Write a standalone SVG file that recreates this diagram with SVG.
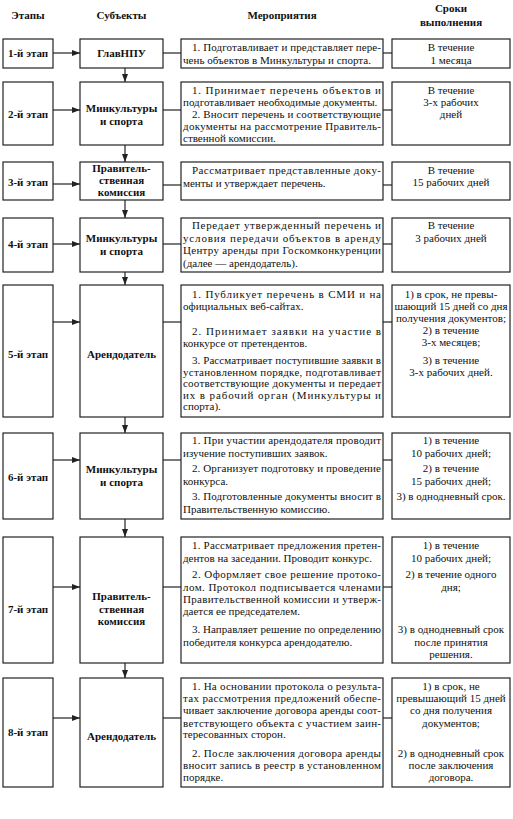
<svg xmlns="http://www.w3.org/2000/svg" width="513" height="819" viewBox="0 0 513 819">
<style>
.bg{fill:#fff}
.box{fill:#fff;stroke:#222;stroke-width:1.2}
.ln{stroke:#222;stroke-width:1.2;fill:none}
.t{font-family:"Liberation Serif","Times New Roman",serif;font-size:11px;fill:#111}
.b{font-weight:bold}
.c{text-anchor:middle}
</style>
<defs>
<marker id="ah" viewBox="0 0 8 6" refX="8" refY="3" markerWidth="8" markerHeight="6" orient="auto" markerUnits="userSpaceOnUse"><path d="M0,0 L8,3 L0,6 z" fill="#222"/></marker>
</defs>
<rect class="bg" x="0" y="0" width="513" height="819"/>
<g id="header" class="t b c">
<text x="28" y="19">Этапы</text>
<text x="121.5" y="19">Субъекты</text>
<text x="282" y="19">Мероприятия</text>
<text x="451" y="12">Сроки</text>
<text x="451" y="26">выполнения</text>
</g>
<g id="connectors">
<line class="ln" x1="53" y1="53" x2="80" y2="53" marker-end="url(#ah)"/>
<line class="ln" x1="163" y1="53" x2="181" y2="53"/>
<line class="ln" x1="383" y1="53" x2="392" y2="53"/>
<line class="ln" x1="125" y1="68" x2="125" y2="82" marker-end="url(#ah)"/>
<line class="ln" x1="53" y1="110" x2="80" y2="110" marker-end="url(#ah)"/>
<line class="ln" x1="163" y1="110" x2="181" y2="110"/>
<line class="ln" x1="383" y1="110" x2="392" y2="110"/>
<line class="ln" x1="125" y1="145" x2="125" y2="162" marker-end="url(#ah)"/>
<line class="ln" x1="53" y1="184" x2="80" y2="184" marker-end="url(#ah)"/>
<line class="ln" x1="163" y1="185" x2="181" y2="185"/>
<line class="ln" x1="383" y1="185" x2="392" y2="185"/>
<line class="ln" x1="125" y1="200" x2="125" y2="218" marker-end="url(#ah)"/>
<line class="ln" x1="53" y1="244" x2="80" y2="244" marker-end="url(#ah)"/>
<line class="ln" x1="163" y1="244" x2="181" y2="244"/>
<line class="ln" x1="383" y1="244" x2="392" y2="244"/>
<line class="ln" x1="125" y1="272" x2="125" y2="285" marker-end="url(#ah)"/>
<line class="ln" x1="53" y1="322" x2="80" y2="322" marker-end="url(#ah)"/>
<line class="ln" x1="163" y1="322" x2="181" y2="322"/>
<line class="ln" x1="383" y1="322" x2="392" y2="322"/>
<line class="ln" x1="125" y1="417" x2="125" y2="433" marker-end="url(#ah)"/>
<line class="ln" x1="53" y1="460" x2="80" y2="460" marker-end="url(#ah)"/>
<line class="ln" x1="163" y1="460" x2="181" y2="460"/>
<line class="ln" x1="383" y1="460" x2="392" y2="460"/>
<line class="ln" x1="125" y1="519" x2="125" y2="537" marker-end="url(#ah)"/>
<line class="ln" x1="53" y1="587" x2="80" y2="587" marker-end="url(#ah)"/>
<line class="ln" x1="163" y1="587" x2="181" y2="587"/>
<line class="ln" x1="383" y1="587" x2="392" y2="587"/>
<line class="ln" x1="125" y1="663" x2="125" y2="678" marker-end="url(#ah)"/>
<line class="ln" x1="53" y1="718" x2="80" y2="718" marker-end="url(#ah)"/>
<line class="ln" x1="163" y1="718" x2="181" y2="718"/>
<line class="ln" x1="383" y1="718" x2="392" y2="718"/>
</g>

<!-- Row 1 -->
<g id="stage1"><rect class="box" x="3" y="39" width="50" height="29"/><text class="t b c" x="28" y="57">1-й этап</text></g>
<g id="subj1"><rect class="box" x="80" y="39" width="83" height="29"/><text class="t b c" x="121.5" y="57">ГлавНПУ</text></g>
<g id="meas1"><rect class="box" x="181" y="39" width="202" height="29"/>
<text class="t" x="192" y="51" textLength="189" lengthAdjust="spacing">1. Подготавливает и представляет пере-</text>
<text class="t" x="183" y="64" textLength="188" lengthAdjust="spacing">чень объектов в Минкультуры и спорта.</text></g>
<g id="term1"><rect class="box" x="392" y="39" width="118" height="29"/>
<text class="t c" x="451" y="51">В течение</text><text class="t c" x="451" y="64">1 месяца</text></g>

<!-- Row 2 -->
<g id="stage2"><rect class="box" x="3" y="82" width="50" height="63"/><text class="t b c" x="28" y="118">2-й этап</text></g>
<g id="subj2"><rect class="box" x="80" y="82" width="83" height="63"/><text class="t b c" x="121.5" y="112">Минкультуры</text><text class="t b c" x="121.5" y="124.5">и спорта</text></g>
<g id="meas2"><rect class="box" x="181" y="82" width="202" height="63"/>
<text class="t" x="192" y="94" textLength="189" lengthAdjust="spacing">1. Принимает перечень объектов и</text>
<text class="t" x="183" y="106">подготавливает необходимые документы.</text>
<text class="t" x="192" y="118" textLength="189" lengthAdjust="spacing">2. Вносит перечень и соответствующие</text>
<text class="t" x="183" y="130" textLength="198" lengthAdjust="spacing">документы на рассмотрение Правитель-</text>
<text class="t" x="183" y="142">ственной комиссии.</text></g>
<g id="term2"><rect class="box" x="392" y="82" width="118" height="63"/>
<text class="t c" x="451" y="94">В течение</text><text class="t c" x="451" y="106">3-х рабочих</text><text class="t c" x="451" y="118">дней</text></g>

<!-- Row 3 -->
<g id="stage3"><rect class="box" x="3" y="162" width="50" height="38"/><text class="t b c" x="28" y="186">3-й этап</text></g>
<g id="subj3"><rect class="box" x="80" y="162" width="83" height="38"/><text class="t b c" x="121.5" y="172">Правитель-</text><text class="t b c" x="121.5" y="184">ственная</text><text class="t b c" x="121.5" y="196">комиссия</text></g>
<g id="meas3"><rect class="box" x="181" y="162" width="202" height="38"/>
<text class="t" x="192" y="174" textLength="189" lengthAdjust="spacing">Рассматривает представленные доку-</text>
<text class="t" x="183" y="187">менты и утверждает перечень.</text></g>
<g id="term3"><rect class="box" x="392" y="162" width="118" height="38"/>
<text class="t c" x="451" y="174">В течение</text><text class="t c" x="451" y="186">15 рабочих дней</text></g>

<!-- Row 4 -->
<g id="stage4"><rect class="box" x="3" y="218" width="50" height="54"/><text class="t b c" x="28" y="248">4-й этап</text></g>
<g id="subj4"><rect class="box" x="80" y="218" width="83" height="54"/><text class="t b c" x="121.5" y="242">Минкультуры</text><text class="t b c" x="121.5" y="254.5">и спорта</text></g>
<g id="meas4"><rect class="box" x="181" y="218" width="202" height="54"/>
<text class="t" x="192" y="229" textLength="189" lengthAdjust="spacing">Передает утвержденный перечень и</text>
<text class="t" x="183" y="241.5" textLength="198" lengthAdjust="spacing">условия передачи объектов в аренду</text>
<text class="t" x="183" y="254" textLength="198" lengthAdjust="spacing">Центру аренды при Госкомконкуренции</text>
<text class="t" x="183" y="266.5">(далее — арендодатель).</text></g>
<g id="term4"><rect class="box" x="392" y="218" width="118" height="54"/>
<text class="t c" x="451" y="229">В течение</text><text class="t c" x="451" y="241.5">3 рабочих дней</text></g>

<!-- Row 5 -->
<g id="stage5"><rect class="box" x="3" y="285" width="50" height="132"/><text class="t b c" x="28" y="358">5-й этап</text></g>
<g id="subj5"><rect class="box" x="80" y="285" width="83" height="132"/><text class="t b c" x="121.5" y="358">Арендодатель</text></g>
<g id="meas5"><rect class="box" x="181" y="285" width="202" height="132"/>
<text class="t" x="192" y="298" textLength="189" lengthAdjust="spacing">1. Публикует перечень в СМИ и на</text>
<text class="t" x="183" y="310">официальных веб-сайтах.</text>
<text class="t" x="192" y="335" textLength="189" lengthAdjust="spacing">2. Принимает заявки на участие в</text>
<text class="t" x="183" y="347">конкурсе от претендентов.</text>
<text class="t" x="192" y="364" textLength="189" lengthAdjust="spacing">3. Рассматривает поступившие заявки в</text>
<text class="t" x="183" y="375.5" textLength="198" lengthAdjust="spacing">установленном порядке, подготавливает</text>
<text class="t" x="183" y="387" textLength="198" lengthAdjust="spacing">соответствующие документы и передает</text>
<text class="t" x="183" y="398.5" textLength="198" lengthAdjust="spacing">их в рабочий орган (Минкультуры и</text>
<text class="t" x="183" y="410">спорта).</text></g>
<g id="term5"><rect class="box" x="392" y="285" width="118" height="132"/>
<text class="t c" x="451" y="298">1) в срок, не превы-</text>
<text class="t c" x="451" y="310">шающий 15 дней со дня</text>
<text class="t c" x="451" y="322">получения документов;</text>
<text class="t c" x="451" y="334">2) в течение</text>
<text class="t c" x="451" y="346">3-х месяцев;</text>
<text class="t c" x="451" y="364">3) в течение</text>
<text class="t c" x="451" y="376">3-х рабочих дней.</text></g>

<!-- Row 6 -->
<g id="stage6"><rect class="box" x="3" y="433" width="50" height="86"/><text class="t b c" x="28" y="481">6-й этап</text></g>
<g id="subj6"><rect class="box" x="80" y="433" width="83" height="86"/><text class="t b c" x="121.5" y="473">Минкультуры</text><text class="t b c" x="121.5" y="485.5">и спорта</text></g>
<g id="meas6"><rect class="box" x="181" y="433" width="202" height="86"/>
<text class="t" x="192" y="444" textLength="189" lengthAdjust="spacing">1. При участии арендодателя проводит</text>
<text class="t" x="183" y="456.5">изучение поступивших заявок.</text>
<text class="t" x="192" y="472" textLength="189" lengthAdjust="spacing">2. Организует подготовку и проведение</text>
<text class="t" x="183" y="484.5">конкурса.</text>
<text class="t" x="192" y="500" textLength="189" lengthAdjust="spacing">3. Подготовленные документы вносит в</text>
<text class="t" x="183" y="512.5">Правительственную комиссию.</text></g>
<g id="term6"><rect class="box" x="392" y="433" width="118" height="86"/>
<text class="t c" x="451" y="444">1) в течение</text>
<text class="t c" x="451" y="456.5">10 рабочих дней;</text>
<text class="t c" x="451" y="472">2) в течение</text>
<text class="t c" x="451" y="484.5">15 рабочих дней;</text>
<text class="t c" x="451" y="500">3) в однодневный срок.</text></g>

<!-- Row 7 -->
<g id="stage7"><rect class="box" x="3" y="537" width="50" height="126"/><text class="t b c" x="28" y="613">7-й этап</text></g>
<g id="subj7"><rect class="box" x="80" y="537" width="83" height="126"/><text class="t b c" x="121.5" y="600">Правитель-</text><text class="t b c" x="121.5" y="612.5">ственная</text><text class="t b c" x="121.5" y="625">комиссия</text></g>
<g id="meas7"><rect class="box" x="181" y="537" width="202" height="126"/>
<text class="t" x="192" y="549" textLength="189" lengthAdjust="spacing">1. Рассматривает предложения претен-</text>
<text class="t" x="183" y="561.5">дентов на заседании. Проводит конкурс.</text>
<text class="t" x="192" y="578" textLength="189" lengthAdjust="spacing">2. Оформляет свое решение протоко-</text>
<text class="t" x="183" y="590.5" textLength="198" lengthAdjust="spacing">лом. Протокол подписывается членами</text>
<text class="t" x="183" y="603" textLength="198" lengthAdjust="spacing">Правительственной комиссии и утверж-</text>
<text class="t" x="183" y="615">дается ее председателем.</text>
<text class="t" x="192" y="633" textLength="189" lengthAdjust="spacing">3. Направляет решение по определению</text>
<text class="t" x="183" y="645.5">победителя конкурса арендодателю.</text></g>
<g id="term7"><rect class="box" x="392" y="537" width="118" height="126"/>
<text class="t c" x="451" y="549">1) в течение</text>
<text class="t c" x="451" y="561.5">10 рабочих дней;</text>
<text class="t c" x="451" y="578">2) в течение одного</text>
<text class="t c" x="451" y="590.5">дня;</text>
<text class="t c" x="451" y="633">3) в однодневный срок</text>
<text class="t c" x="451" y="645.5">после принятия</text>
<text class="t c" x="451" y="658">решения.</text></g>

<!-- Row 8 -->
<g id="stage8"><rect class="box" x="3" y="678" width="50" height="109"/><text class="t b c" x="28" y="736">8-й этап</text></g>
<g id="subj8"><rect class="box" x="80" y="678" width="83" height="109"/><text class="t b c" x="121.5" y="740">Арендодатель</text></g>
<g id="meas8"><rect class="box" x="181" y="678" width="202" height="109"/>
<text class="t" x="192" y="690" textLength="189" lengthAdjust="spacing">1. На основании протокола о результа-</text>
<text class="t" x="183" y="702" textLength="198" lengthAdjust="spacing">тах рассмотрения предложений обеспе-</text>
<text class="t" x="183" y="714" textLength="198" lengthAdjust="spacing">чивает заключение договора аренды соот-</text>
<text class="t" x="183" y="726.5" textLength="198" lengthAdjust="spacing">ветствующего объекта с участием заин-</text>
<text class="t" x="183" y="738">тересованных сторон.</text>
<text class="t" x="192" y="757" textLength="189" lengthAdjust="spacing">2. После заключения договора аренды</text>
<text class="t" x="183" y="769" textLength="198" lengthAdjust="spacing">вносит запись в реестр в установленном</text>
<text class="t" x="183" y="781">порядке.</text></g>
<g id="term8"><rect class="box" x="392" y="678" width="118" height="109"/>
<text class="t c" x="451" y="690">1) в срок, не</text>
<text class="t c" x="451" y="702">превышающий 15 дней</text>
<text class="t c" x="451" y="714">со дня получения</text>
<text class="t c" x="451" y="726.5">документов;</text>
<text class="t c" x="451" y="757">2) в однодневный срок</text>
<text class="t c" x="451" y="769">после заключения</text>
<text class="t c" x="451" y="781">договора.</text></g>
</svg>
